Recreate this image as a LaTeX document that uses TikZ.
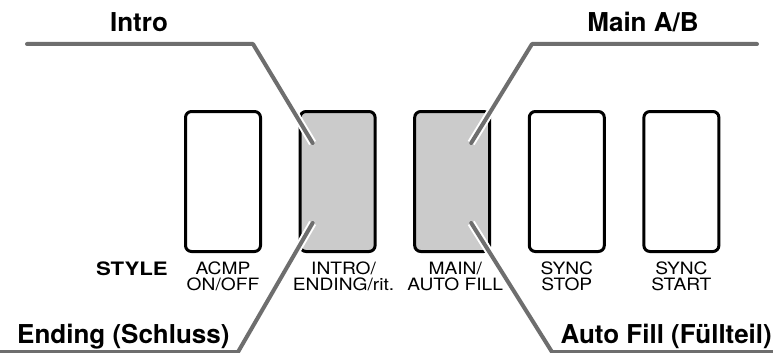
\documentclass[tikz,border=0pt]{standalone}
\usepackage{fontspec}
\setmainfont{TeX Gyre Heros}
\newfontfamily\panelfont[FakeStretch=1.13]{TeX Gyre Heros}
\newfontfamily\stylefont[FakeStretch=1.2]{TeX Gyre Heros}
\usetikzlibrary{positioning}
\definecolor{keyGray}{HTML}{CBCBCB}
\definecolor{leadGray}{HTML}{6E6E6E}
\tikzset{
  key/.style={
    draw=black, fill=#1, rounded corners=6pt,
    line width=3pt, inner sep=0pt,
    minimum width=75pt, minimum height=140pt
  },
  key/.default=white,
  keylabel/.style={
    align=center, inner sep=0pt,
    font=\panelfont\fontsize{17}{16}\selectfont
  },
  callout/.style={inner sep=0pt, font=\fontsize{26}{28}\selectfont\bfseries},
  leader/.style={
    draw=leadGray, line width=4pt, line cap=round, line join=round,
    preaction={draw=white, line width=8pt}
  }
}

\begin{document}
\begin{tikzpicture}[x=1pt, y=-1pt, node distance=36.6pt]
  \useasboundingbox (0,0) rectangle (773,353);
  % panel keys
  \node[key] (acmp) at (223,181.5) {};
  \node[key=keyGray, right=of acmp] (intro) {};
  \node[key=keyGray, right=of intro] (main) {};
  \node[key, right=of main] (stop) {};
  \node[key, right=of stop] (start) {};

  % leader lines
  \coordinate (introTip) at ([xshift=14pt, yshift=-33pt]intro.north west);
  \coordinate (introBend) at (253,44);
  \coordinate (introTail) at (27,44);
  \coordinate (endTip) at ([xshift=14pt, yshift=30pt]intro.south west);
  \coordinate (endBend) at (238,352);
  \coordinate (endTail) at (-5,352);
  \coordinate (mainTip) at ([xshift=-20pt, yshift=-33pt]main.north east);
  \coordinate (mainBend) at (532,44);
  \coordinate (mainTail) at (757,44);
  \coordinate (fillTip) at ([xshift=-20pt, yshift=30pt]main.south east);
  \coordinate (fillBend) at (552,352);
  \coordinate (fillTail) at (780,352);
  \draw[leader] (introTail) -- (introBend) -- (introTip);
  \draw[leader] (mainTail) -- (mainBend) -- (mainTip);
  \draw[leader] (endTail) -- (endBend) -- (endTip);
  \draw[leader] (fillTail) -- (fillBend) -- (fillTip);

  % key captions
  \node[keylabel, below=9pt of acmp] (acmpL) {ACMP\\ON/OFF};
  \node[keylabel, below=9pt of intro, xshift=6pt] (introL) {INTRO/\\ENDING/rit.};
  \node[keylabel, below=9pt of main, xshift=3pt] (mainL) {MAIN/\\AUTO FILL};
  \node[keylabel, below=9pt of stop] (stopL) {SYNC\\STOP};
  \node[keylabel, below=9pt of start] (startL) {SYNC\\START};
  \node[inner sep=0pt, anchor=base east, font=\stylefont\fontsize{18.5}{20}\selectfont\bfseries]
    (styleL) at (168,275) {STYLE};

  % callouts
  \node[callout, anchor=base] (introT) at (139,32) {Intro};
  \node[callout, anchor=base] (mainT) at (643,32) {Main A/B};
  \node[callout, anchor=base west] (endT) at (17,343) {Ending (Schluss)};
  \node[callout, anchor=base east] (fillT) at (772,343) {Auto Fill (Füllteil)};
\end{tikzpicture}
\end{document}
